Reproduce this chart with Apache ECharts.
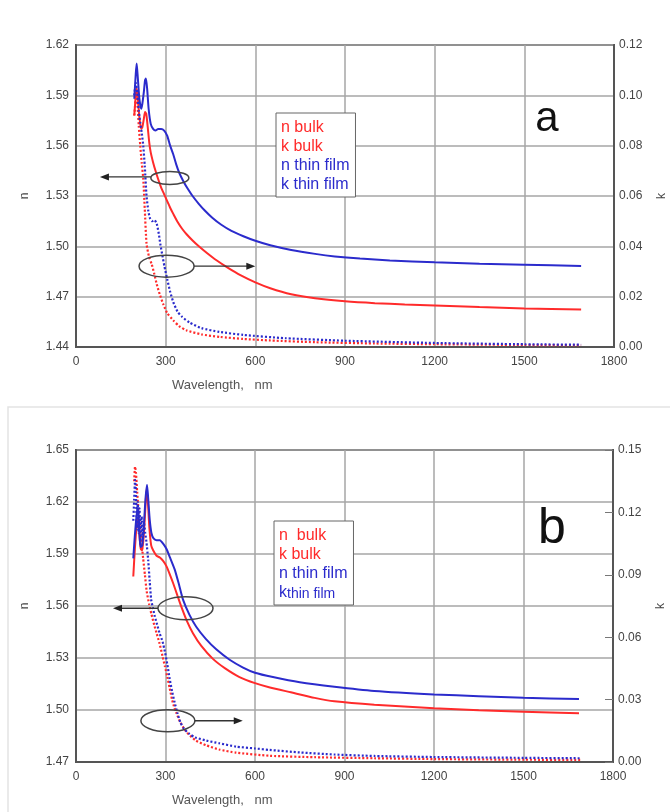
<!DOCTYPE html>
<html>
<head>
<meta charset="utf-8">
<script src="https://cdn.jsdelivr.net/npm/echarts@6/dist/echarts.min.js"></script>
<style>
html,body{margin:0;padding:0;background:#fff;overflow:hidden;}
#c{width:670px;height:812px;}
</style>
</head>
<body>
<div id="c"></div>
<script>
// ---------- Panel a ----------
const aNBulkWl = [195,200,203,207,212,218,222,227,231,235,240,245,250,258,266,275,285,295,305,315,325,340,355,370,390,410,437,470,510,550,600,650,720,800,900,1000,1100,1200,1350,1500,1690];
const aNBulk   = [1.578,1.590,1.594,1.588,1.577,1.570,1.571,1.576,1.580,1.579,1.571,1.562,1.556,1.550,1.545,1.540,1.535,1.531,1.527,1.523,1.5195,1.5145,1.5105,1.5072,1.5035,1.5002,1.4962,1.4917,1.4870,1.4828,1.4785,1.4750,1.4714,1.4690,1.4672,1.4661,1.4654,1.4648,1.4638,1.463,1.4623];

const aNThinWl = [195,200,203,207,212,218,222,227,231,234,238,243,250,258,266,275,285,295,305,315,325,335,345,360,375,390,410,430,455,485,520,560,600,650,720,800,866,950,1050,1200,1350,1500,1690];
const aNThin   = [1.588,1.603,1.609,1.600,1.588,1.582,1.585,1.592,1.599,1.600,1.594,1.582,1.573,1.570,1.569,1.570,1.570,1.569,1.566,1.560,1.555,1.549,1.544,1.5385,1.5340,1.5300,1.5255,1.5215,1.5172,1.5130,1.5092,1.5060,1.5033,1.5006,1.4978,1.4955,1.4940,1.4927,1.4916,1.4905,1.4896,1.489,1.4883];

const aKBulkWl = [195,200,203,206,210,215,220,225,230,236,244,253,262,270,280,292,305,326,345,370,420,482,560,650,800,1000,1200,1500,1690];
const aKBulk   = [0.092,0.099,0.101,0.096,0.088,0.080,0.073,0.067,0.055,0.041,0.036,0.033,0.029,0.025,0.021,0.017,0.0135,0.0105,0.0083,0.0066,0.005,0.004,0.0032,0.0026,0.0019,0.0014,0.0011,0.0008,0.0007];

const aKThinWl = [195,200,205,210,215,220,225,230,236,242,248,255,262,270,277,282,288,296,305,315,325,340,355,380,420,480,560,700,900,1200,1500,1690];
const aKThin   = [0.100,0.105,0.101,0.094,0.089,0.085,0.080,0.072,0.060,0.054,0.051,0.050,0.0505,0.049,0.045,0.041,0.037,0.032,0.027,0.022,0.018,0.014,0.012,0.0097,0.0075,0.006,0.0048,0.0035,0.0025,0.0016,0.0011,0.0009];

// ---------- Panel b ----------
const bNBulkWl = [192,197,203,208,212,217,222,228,233,237,241,246,252,259,270,281,292,303,315,326,340,353,370,392,420,459,500,548,600,650,720,800,866,1000,1200,1350,1500,1686];
const bNBulk   = [1.577,1.592,1.606,1.610,1.602,1.593,1.592,1.603,1.618,1.628,1.620,1.605,1.595,1.592,1.589,1.588,1.586,1.583,1.578,1.573,1.566,1.5596,1.552,1.5443,1.537,1.5295,1.524,1.519,1.5155,1.513,1.5102,1.5070,1.5050,1.5030,1.501,1.4998,1.499,1.4981];

const bNThinWl = [192,197,203,208,212,216,222,228,233,238,242,247,253,260,270,281,292,303,315,331,345,359,380,403,435,470,515,560,600,660,750,866,1000,1200,1350,1500,1686];
const bNThin   = [1.5875,1.600,1.612,1.617,1.605,1.594,1.595,1.608,1.622,1.630,1.622,1.610,1.602,1.599,1.598,1.598,1.596,1.593,1.588,1.581,1.5725,1.5635,1.555,1.548,1.541,1.535,1.529,1.5245,1.5215,1.519,1.516,1.5134,1.511,1.509,1.508,1.5071,1.5063];

const bKBulkWl = [195,198,201,205,210,215,220,225,231,237,245,253,262,270,280,290,298,306,314,322,330,337,350,370,400,437,480,537,649,800,1000,1200,1500,1690];
const bKBulk   = [0.135,0.142,0.139,0.130,0.120,0.112,0.105,0.098,0.090,0.082,0.076,0.071,0.066,0.062,0.057,0.051,0.046,0.041,0.0355,0.030,0.026,0.0234,0.019,0.0145,0.0105,0.008,0.006,0.0045,0.003,0.0023,0.0018,0.0014,0.0011,0.001];

const bKThinWl = [192,195,198,201,204,207,210,213,216,220,224,228,232,236,242,247,252,258,264,272,280,290,298,306,314,322,330,340,350,362,380,400,437,480,537,600,649,750,866,1000,1200,1500,1690];
const bKThin   = [0.116,0.126,0.1356,0.130,0.112,0.125,0.110,0.122,0.105,0.118,0.108,0.115,0.110,0.106,0.097,0.087,0.078,0.074,0.070,0.066,0.062,0.058,0.053,0.047,0.040,0.034,0.029,0.0235,0.019,0.016,0.0135,0.0118,0.0103,0.009,0.0074,0.0065,0.0058,0.0046,0.0036,0.0029,0.0024,0.002,0.0018];

// ---------- axis ticks / labels ----------
const xTicks = {min:0, max:1800, interval:300};
const aNAxis = {min:1.44, max:1.62, interval:0.03};
const aKAxis = {min:0, max:0.12, interval:0.02};
const bNAxis = {min:1.47, max:1.65, interval:0.03};
const bKAxis = {min:0, max:0.15, interval:0.03};
const seriesNames = ['n bulk','k bulk','n thin film','k thin film'];

const RED = '#ff2b2b', BLUE = '#2b2bcc';
const FONT = '"Liberation Sans", Arial, sans-serif';
const pair = (w, v) => w.map((x, i) => [x, v[i]]);

const chart = echarts.init(document.getElementById('c'));

const axisLine = {show:true, lineStyle:{color:'#555', width:2}};
const splitLine = {show:true, lineStyle:{color:'#a6a6a6', width:1.5}};
const lbl = (m) => ({color:'#444', fontSize:12, fontFamily:FONT, margin:m, formatter: v => Number(v).toFixed(2)});

function xAxis(gi){
  return {type:'value', gridIndex:gi, min:xTicks.min, max:xTicks.max, interval:xTicks.interval,
    axisLine, axisTick:{show:false}, splitLine,
    axisLabel:{color:'#444', fontSize:12, fontFamily:FONT, margin:9, formatter: v => String(v)}};
}
function yLeft(gi, r){
  return {type:'value', gridIndex:gi, position:'left', min:r.min, max:r.max, interval:r.interval,
    axisLine, axisTick:{show:false}, splitLine, axisLabel:lbl(7),
    name:'n', nameLocation:'middle', nameGap:45, nameRotate:90,
    nameTextStyle:{color:'#444', fontSize:12, fontFamily:FONT}};
}
function yRight(gi, r, ticks){
  return {type:'value', gridIndex:gi, position:'right', min:r.min, max:r.max, interval:r.interval,
    axisLine, axisTick:{show:ticks, inside:true, length:8, lineStyle:{color:'#777', width:1}},
    splitLine:{show:false}, axisLabel:lbl(5),
    name:'k', nameLocation:'middle', nameGap:42, nameRotate:90,
    nameTextStyle:{color:'#444', fontSize:12, fontFamily:FONT}};
}
function line(name, xi, yi, data, color, dotted){
  return {name, type:'line', xAxisIndex:xi, yAxisIndex:yi, data, showSymbol:false, smooth:0.2,
    lineStyle:{color, width: dotted ? 2.2 : 2, type: dotted ? [2,2] : 'solid'}, itemStyle:{color}};
}
function legend(left, top, fmt){
  return {left, top, orient:'vertical', selectedMode:false, itemWidth:0, itemHeight:0, itemGap:0,
    icon:'rect', itemStyle:{opacity:0}, lineStyle:{opacity:0},
    borderColor:'#666', borderWidth:1, padding:[5,6,3,0], backgroundColor:'#fff',
    formatter: fmt,
    textStyle:{fontSize:16, lineHeight:19, fontFamily:FONT,
      rich:{s:{fontSize:14, color:BLUE, fontFamily:FONT, padding:[3,0,0,0]}}},
    data:[
      {name:seriesNames[0], textStyle:{color:RED}},
      {name:seriesNames[1], textStyle:{color:RED}},
      {name:seriesNames[2], textStyle:{color:BLUE}},
      {name:seriesNames[3], textStyle:{color:BLUE}}
    ]};
}

const gridBase = {show:true, borderColor:'#555', borderWidth:2, backgroundColor:'transparent', containLabel:false, outerBoundsMode:'none'};
const option = {
  animation:false,
  backgroundColor:'#fff',
  grid:[
    Object.assign({left:76, top:45, width:538, height:302}, gridBase),
    Object.assign({left:76, top:450, width:537, height:312}, gridBase)
  ],
  xAxis:[xAxis(0), xAxis(1)],
  yAxis:[yLeft(0, aNAxis), yRight(0, aKAxis, false), yLeft(1, bNAxis), yRight(1, bKAxis, true)],
  legend:[
    legend(276, 113, n => n),
    legend(274, 521, n => n === 'n bulk' ? 'n  bulk' : (n === 'k thin film' ? 'k{s|thin film}' : n))
  ],
  series:[
    line(seriesNames[0], 0, 0, pair(aNBulkWl, aNBulk), RED, false),
    line(seriesNames[1], 0, 1, pair(aKBulkWl, aKBulk), RED, true),
    line(seriesNames[2], 0, 0, pair(aNThinWl, aNThin), BLUE, false),
    line(seriesNames[3], 0, 1, pair(aKThinWl, aKThin), BLUE, true),
    line(seriesNames[0], 1, 2, pair(bNBulkWl, bNBulk), RED, false),
    line(seriesNames[1], 1, 3, pair(bKBulkWl, bKBulk), RED, true),
    line(seriesNames[2], 1, 2, pair(bNThinWl, bNThin), BLUE, false),
    line(seriesNames[3], 1, 3, pair(bKThinWl, bKThin), BLUE, true)
  ]
};
chart.setOption(option);

// ---------- annotations (ellipses + arrows), anchored through the axes ----------
function px(xi, yi, x, y){ return chart.convertToPixel({xAxisIndex:xi, yAxisIndex:yi}, [x, y]); }
const g = [];
function ellipse(c, rx, ry){
  g.push({type:'ellipse', shape:{cx:c[0], cy:c[1], rx, ry}, style:{fill:'none', stroke:'#444', lineWidth:1.5}, z:50});
}
function arrow(x1, x2, y){
  const dir = x2 > x1 ? 1 : -1;
  g.push({type:'line', shape:{x1, y1:y, x2:x2 - dir*7, y2:y}, style:{stroke:'#333', lineWidth:1.3}, z:50});
  g.push({type:'polygon', shape:{points:[[x2, y],[x2 - dir*9, y-3.5],[x2 - dir*9, y+3.5]]}, style:{fill:'#222'}, z:50});
}
// panel a
let c = px(0,0,314,1.5408); ellipse(c, 19, 6.5); arrow(c[0]-19, px(0,0,80,1.5)[0], c[1]-1);
c = px(0,0,303,1.4882); ellipse(c, 27.5, 11); arrow(c[0]+27.5, px(0,0,600,1.5)[0], c[1]);
// panel b
c = px(1,2,367,1.5587); ellipse(c, 27.5, 11.5); arrow(c[0]-27.5, px(1,2,124,1.5)[0], c[1]);
c = px(1,2,308,1.4938); ellipse(c, 27, 11); arrow(c[0]+27, px(1,2,559,1.5)[0], c[1]);

// panel letters and axis titles
g.push({type:'text', x:547, y:119, style:{text:'a', font:'42px ' + FONT, fill:'#111', textAlign:'center', textVerticalAlign:'middle'}, z:50});
g.push({type:'text', x:552, y:529, style:{text:'b', font:'50px ' + FONT, fill:'#111', textAlign:'center', textVerticalAlign:'middle'}, z:50});
g.push({type:'text', x:172, y:385, style:{text:'Wavelength,   nm', font:'13px ' + FONT, fill:'#555', textAlign:'left', textVerticalAlign:'middle'}, z:50});
g.push({type:'text', x:172, y:800, style:{text:'Wavelength,   nm', font:'13px ' + FONT, fill:'#555', textAlign:'left', textVerticalAlign:'middle'}, z:50});
// light frame of panel b
g.push({type:'rect', shape:{x:8, y:407, width:700, height:460}, style:{fill:'none', stroke:'#e3e3e3', lineWidth:1.5}, z:-10});

chart.setOption({graphic:g});
</script>
</body>
</html>
